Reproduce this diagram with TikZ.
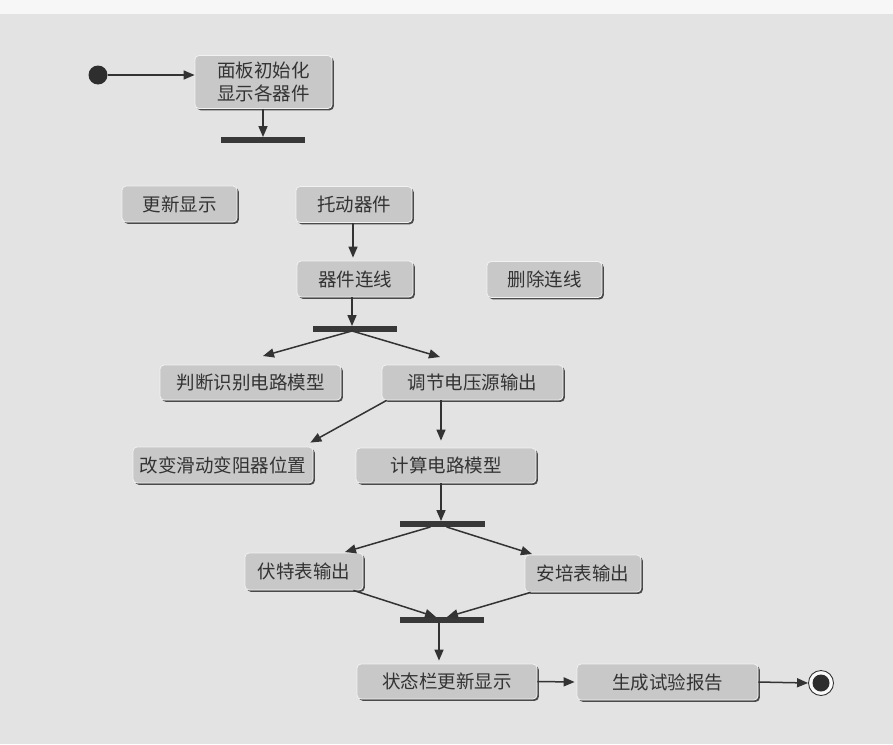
\documentclass[tikz,border=0pt]{standalone}
\usepackage{fontspec}
\newfontfamily\cjk{Noto Sans CJK SC}
\usetikzlibrary{arrows.meta,calc,shadows}
\definecolor{bg}{HTML}{E3E3E3}
\definecolor{boxfill}{HTML}{C8C8C8}
\definecolor{ink}{HTML}{333333}
\definecolor{shade}{HTML}{4A4A4A}
\tikzset{
  act/.style={rectangle, rounded corners=4pt, fill=boxfill, draw=white!90!gray,
    line width=0.8pt, minimum height=36pt, inner sep=0pt,
    font=\cjk\fontsize{18.5}{23}\selectfont, text=ink, align=center,
    drop shadow={shadow xshift=1.8pt, shadow yshift=-1.8pt, fill=shade, opacity=1}},
  forkbar/.style={rectangle, fill=black!78, minimum width=84pt, minimum height=5.5pt, inner sep=0pt},
  flow/.style={draw=ink, line width=1.5pt, -{Triangle[length=11pt,width=9pt]}},
  startdot/.style={circle, fill=ink!90!black, minimum size=19pt, inner sep=0pt},
}
\begin{document}
\begin{tikzpicture}[x=1pt,y=-1pt]
\fill[bg] (0,0) rectangle (893,744);
\fill[white!94!gray] (0,0) rectangle (893,14);
\useasboundingbox (0,0) rectangle (893,744);

% nodes
\node[startdot] (start) at (98,75) {};
\node[act, minimum width=137pt, minimum height=53pt] (init) at (263.5,82) {面板初始化\\显示各器件};
\node[forkbar] (bar1) at (263,140) {};

\node[act, minimum width=115pt] (update) at (179.5,204) {更新显示};
\node[act, minimum width=116pt] (drag) at (354,204.5) {托动器件};
\node[act, minimum width=116pt] (connect) at (355,279) {器件连线};
\node[act, minimum width=115pt] (delete) at (544.5,279.5) {删除连线};
\node[forkbar] (bar2) at (355,329) {};

\node[act, minimum width=181pt, minimum height=35pt] (judge) at (250.5,382.5) {判断识别电路模型};
\node[act, minimum width=181pt, minimum height=35pt] (adjust) at (472.5,382.5) {调节电压源输出};
\node[act, minimum width=180pt] (change) at (223,465) {改变滑动变阻器位置};
\node[act, minimum width=180pt, minimum height=35pt] (compute) at (446,465.5) {计算电路模型};
\node[forkbar, minimum width=85pt] (bar3) at (442.5,524) {};

\node[act, minimum width=118pt, minimum height=37pt] (volt) at (304,571.5) {伏特表输出};
\node[act, minimum width=116pt, minimum height=37pt] (amp) at (583,573.5) {安培表输出};
\node[forkbar] (bar4) at (442,620) {};

\node[act, minimum width=180pt, minimum height=35pt] (status) at (447,681.5) {状态栏更新显示};
\node[act, minimum width=181pt] (report) at (667.5,682) {生成试验报告};
\node[circle, draw=ink, line width=0.9pt, fill=white!96!gray, minimum size=25pt, inner sep=0pt] (end) at (821,683) {};
\node[circle, fill=ink!90!black, minimum size=17pt, inner sep=0pt] (enddot) at (end) {};

% free ends
\coordinate (ax) at (441,0);
\coordinate (bx) at (439,0);
\coordinate (jin) at (263,356);
\coordinate (ain) at (440,357);
\coordinate (vin) at (345,552);
\coordinate (pin) at (532,554);
\coordinate (b4l) at (436,617);
\coordinate (b4r) at (447,617);

% connectors
\draw[flow] (start) -- (init.west |- start);
\draw[flow] (init.south -| bar1) -- (bar1.north);
\draw[flow] (drag.south -| 353,0) -- ($(connect.north -| 353,0)+(0,-3)$);
\draw[flow] (connect.south -| 352,0) -- (bar2.north -| 352,0);
\draw[flow] ($(bar2.south -| 352,0)+(0,-1)$) -- (jin);
\draw[flow] ($(bar2.south -| 352,0)+(0,-1)$) -- (ain);
\draw[flow] ($(adjust.south west)+(5,0)$) -- ($(change.north east)+(-3,-4)$);
\draw[flow] (adjust.south -| ax) -- ($(compute.north -| ax)+(0,-7)$);
\draw[flow] (compute.south -| ax) -- (bar3.north -| ax);
\draw[flow] ($(bar3.south)+(-12,0)$) -- (vin);
\draw[flow] ($(bar3.south)+(4,0)$) -- (pin);
\draw[flow] ($(volt.south east)+(-10,0)$) -- (b4l);
\draw[flow] ($(amp.south west)+(6,0)$) -- (b4r);
\draw[flow] (bar4.south -| bx) -- ($(status.north -| bx)+(0,-3)$);
\draw[flow] (status.east) -- ($(report.west)+(-2,0)$);
\draw[flow] (report.east) -- (end.west);
\end{tikzpicture}
\end{document}
